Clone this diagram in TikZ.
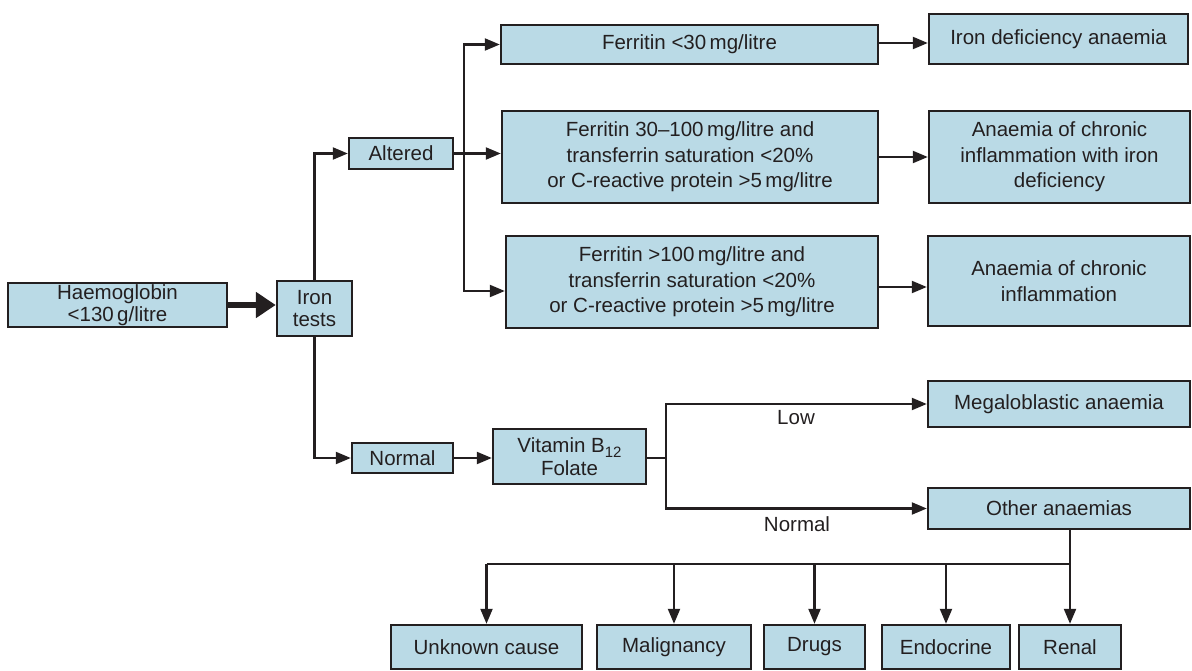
\documentclass[tikz,border=0pt]{standalone}
\usepackage{fontspec}
\setmainfont{Liberation Sans}
\usetikzlibrary{arrows.meta,positioning}
\definecolor{boxfill}{RGB}{186,218,230}
\definecolor{ink}{RGB}{35,31,32}
\tikzset{
  box/.style={draw=ink, fill=boxfill, line width=2.4pt, inner sep=0pt, align=center,
    text=ink, font=\fontsize{20.5}{25.5}\selectfont},
  tightbox/.style={box, font=\fontsize{20.5}{22.5}\selectfont},
  conn/.style={draw=ink, line width=2.2pt},
  arr/.style={conn, -{Triangle[length=15pt,width=12pt]}},
  thickarr/.style={draw=ink, line width=5.5pt, -{Triangle[length=20pt,width=25pt]}},
  lbl/.style={text=ink, font=\fontsize{20.5}{25.5}\selectfont, inner sep=0pt}
}
\begin{document}
\begin{tikzpicture}[x=1pt,y=-1pt]
\useasboundingbox (0,0) rectangle (1192,671);
% left
\node[tightbox, minimum width=219pt, minimum height=44pt] (hb) at (117.5,305) {Haemoglobin\\<130\,g/litre};
\node[tightbox, minimum width=75pt, minimum height=55pt] (iron) at (314.5,308.5) {Iron\\tests};
\node[box, minimum width=104pt, minimum height=31pt] (alt) at (401,153.5) {Altered};
\node[box, minimum width=101pt, minimum height=30pt] (norm) at (402.5,458) {Normal};
% ferritin boxes
\node[box, minimum width=377pt, minimum height=39pt] (f1) at (689.5,44.5) {Ferritin <30\,mg/litre};
\node[box, minimum width=376pt, minimum height=92pt] (f2) at (690,157) {Ferritin 30–100\,mg/litre and\\transferrin saturation <20\%\\or C-reactive protein >5\,mg/litre};
\node[box, minimum width=372pt, minimum height=92pt] (f3) at (692,282) {Ferritin >100\,mg/litre and\\transferrin saturation <20\%\\or C-reactive protein >5\,mg/litre};
% results
\node[box, minimum width=259pt, minimum height=50pt] (r1) at (1058.5,39) {Iron deficiency anaemia};
\node[box, minimum width=261pt, minimum height=92pt] (r2) at (1059.5,157) {Anaemia of chronic\\inflammation with iron\\deficiency};
\node[box, minimum width=262pt, minimum height=90pt] (r3) at (1059,281) {Anaemia of chronic\\inflammation};
% vitamin
\node[tightbox, minimum width=153pt, minimum height=55pt] (vit) at (569.5,456.5) {Vitamin B\raisebox{-0.5ex}{\fontsize{15}{15}\selectfont 12}\\Folate};
\node[box, minimum width=262pt, minimum height=46pt] (mega) at (1059,404) {Megaloblastic anaemia};
\node[box, minimum width=262pt, minimum height=41pt] (other) at (1059,508.5) {Other anaemias};
% bottom
\node[box, minimum width=191pt, minimum height=44pt] (unk) at (486.5,647) {Unknown cause};
\node[box, minimum width=154pt, minimum height=44pt] (mal) at (674,647) {Malignancy};
\node[box, minimum width=101pt, minimum height=44pt] (drugs) at (814.5,647) {Drugs};
\node[box, minimum width=128pt, minimum height=44pt] (endo) at (946,647) {Endocrine};
\node[box, minimum width=102pt, minimum height=44pt] (renal) at (1070,647) {Renal};
% labels
\node[lbl] (low) at (796,418) {Low};
\node[lbl] (nrm) at (797,524) {Normal};
% connectors
\draw[thickarr] (hb.east) -- (iron.west |- hb.east);
\draw[arr] (iron.north) |- (alt.west);
\draw[arr] (iron.south) |- (norm.west);
\draw[arr] (alt.east) -- (alt.east -| f2.west);
\coordinate (j1) at (464,153.5);
\draw[arr] (j1) |- (f1.west);
\draw[arr] (j1) |- ([yshift=-9pt]f3.west);
\draw[arr] ([yshift=1.5pt]f1.east) -- ([yshift=1.5pt]f1.east -| r1.west);
\draw[arr] (f2.east) -- (f2.east -| r2.west);
\draw[arr] ([yshift=-5pt]f3.east) -- ([yshift=-5pt]f3.east -| r3.west);
\draw[arr] (norm.east) -- (norm.east -| vit.west);
\coordinate (split) at (666,458);
\draw[conn] (vit.east |- split) -- (split);
\draw[arr] (split) |- (mega.west);
\draw[arr] (split) |- (other.west);
\coordinate (bus) at (0,564);
\draw[arr] (renal.north |- other.south) -- (renal.north);
\draw[conn] (unk.north |- bus) -- (renal.north |- bus);
\draw[arr] (unk.north |- bus) -- (unk.north);
\draw[arr] (mal.north |- bus) -- (mal.north);
\draw[arr] (drugs.north |- bus) -- (drugs.north);
\draw[arr] (endo.north |- bus) -- (endo.north);
\end{tikzpicture}
\end{document}
